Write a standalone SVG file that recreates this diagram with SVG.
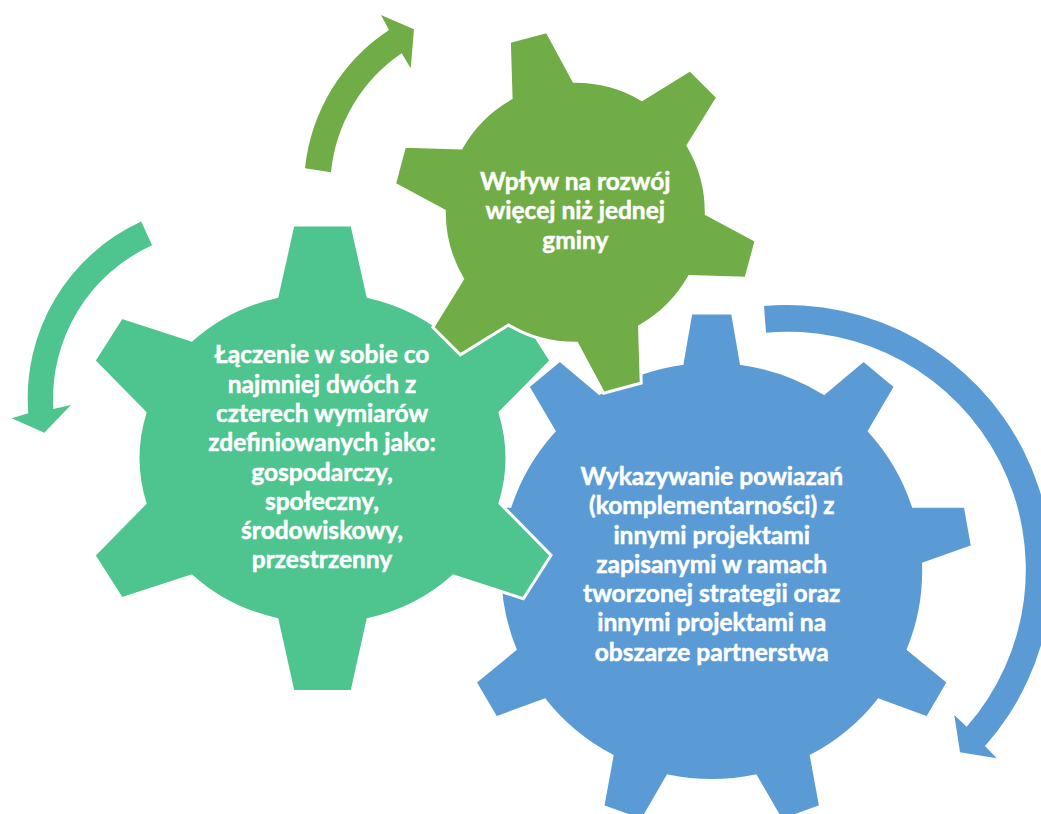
<svg xmlns="http://www.w3.org/2000/svg" width="1041" height="814" viewBox="0 0 1041 814">
<style>
.gear{stroke:#FFFFFF;stroke-width:3;stroke-linejoin:miter}
.blue{fill:#5B9BD5}
.teal{fill:#4EC48E}
.green{fill:#70AD47}
.lbl{font-family:Lato,"Liberation Sans",sans-serif;font-weight:bold;font-size:24.5px;fill:#FFFFFF;stroke:#FFFFFF;stroke-width:0.5;text-anchor:middle}
</style>
<rect x="0" y="0" width="1041" height="814" fill="#FFFFFF"/>
<g id="gear-blue">
<path class="gear blue" d="M 682.05,363.6 L 690.85,313 L 732.55,313 L 741.35,363.6 A 212 209.5 0 0 1 823.91,393.3 L 863.56,360.13 L 895.5,386.61 L 869.33,430.96 A 212 209.5 0 0 1 913.25,506.15 L 965.21,505.92 L 972.45,546.5 L 923.55,563.85 A 212 209.5 0 0 1 908.29,649.33 L 948.23,682.16 L 927.39,717.84 L 878.64,700.07 A 212 209.5 0 0 1 811.34,755.87 L 820.59,806.39 L 781.41,820.49 L 755.62,775.91 A 212 209.5 0 0 1 667.78,775.91 L 641.99,820.49 L 602.81,806.39 L 612.06,755.87 A 212 209.5 0 0 1 544.76,700.07 L 496.01,717.84 L 475.17,682.16 L 515.11,649.33 A 212 209.5 0 0 1 499.85,563.85 L 450.95,546.5 L 458.19,505.92 L 510.15,506.15 A 212 209.5 0 0 1 554.07,430.96 L 527.9,386.61 L 559.84,360.13 L 599.49,393.3 A 212 209.5 0 0 1 682.05,363.6 Z"/>
<text class="lbl" x="711.7" y="484.9">Wykazywanie powiazań</text>
<text class="lbl" x="711.7" y="514.2">(komplementarności) z</text>
<text class="lbl" x="711.7" y="543.5">innymi projektami</text>
<text class="lbl" x="711.7" y="572.8">zapisanymi w ramach</text>
<text class="lbl" x="711.7" y="602.1">tworzonej strategii oraz</text>
<text class="lbl" x="711.7" y="631.4">innymi projektami na</text>
<text class="lbl" x="711.7" y="660.7">obszarze partnerstwa</text>
</g>
<g id="gear-teal">
<path class="gear teal" d="M 277,296.5 L 293,225 L 352,225 L 368,296.5 A 183.5 167 0 0 1 453.3,340 L 523.3,317.3 L 551,360.7 L 500,412.7 A 183.5 167 0 0 1 500,503.3 L 551,555.3 L 523.3,598.7 L 453.3,576 A 183.5 167 0 0 1 368,619.5 L 352,691.5 L 293,691.5 L 277,619.5 A 183.5 167 0 0 1 191.7,576 L 121.7,598.7 L 94,555.3 L 145,503.3 A 183.5 167 0 0 1 145,412.7 L 94,360.7 L 121.7,317.3 L 191.7,340 A 183.5 167 0 0 1 277,296.5 Z"/>
<text class="lbl" x="322" y="363.3">Łączenie w sobie co</text>
<text class="lbl" x="322" y="392.6">najmniej dwóch z</text>
<text class="lbl" x="322" y="421.9">czterech wymiarów</text>
<text class="lbl" x="322" y="451.2">zdefiniowanych jako:</text>
<text class="lbl" x="322" y="480.5">gospodarczy,</text>
<text class="lbl" x="322" y="509.8">społeczny,</text>
<text class="lbl" x="322" y="539.1">środowiskowy,</text>
<text class="lbl" x="322" y="568.4">przestrzenny</text>
</g>
<g id="gear-green">
<path class="gear green" d="M 511.07,98.14 L 509.36,41.56 L 547.04,31.46 L 573.85,81.32 A 131 131 0 0 1 642.05,99.59 L 690.2,69.82 L 717.78,97.4 L 688.01,145.55 A 131 131 0 0 1 706.28,213.75 L 756.14,240.56 L 746.04,278.24 L 689.46,276.53 A 131 131 0 0 1 639.53,326.46 L 641.24,383.04 L 603.56,393.14 L 576.75,343.28 A 131 131 0 0 1 508.55,325.01 L 460.4,354.78 L 432.82,327.2 L 462.59,279.05 A 131 131 0 0 1 444.32,210.85 L 394.46,184.04 L 404.56,146.36 L 461.14,148.07 A 131 131 0 0 1 511.07,98.14 Z"/>
<text class="lbl" x="575.3" y="190">Wpływ na rozwój</text>
<text class="lbl" x="575.3" y="219.3">więcej niż jednej</text>
<text class="lbl" x="575.3" y="248.6">gminy</text>
</g>
<g id="connectors">
<path id="arrow-green" class="green" d="M 305,168.3 A 189 189 0 0 1 389,30 L 381,15 L 414,29.3 L 410.7,68.3 L 401.7,53.3 A 162.5 162.5 0 0 0 331,172.3 Z"/>
<path id="arrow-teal" class="teal" d="M 141.2,221.6 A 194 194 0 0 0 28.3,413.3 L 11.7,418.3 L 44.3,432.7 L 71,405 L 53.3,409 A 169 169 0 0 1 152.1,245.2 Z"/>
<path id="arrow-blue" class="blue" d="M 764,306 A 265 265 0 0 1 985,746 L 996.7,758.3 L 960,752.3 L 954.3,715 L 966.7,726.7 A 238 238 0 0 0 766,332.7 Z"/>
</g>
</svg>
